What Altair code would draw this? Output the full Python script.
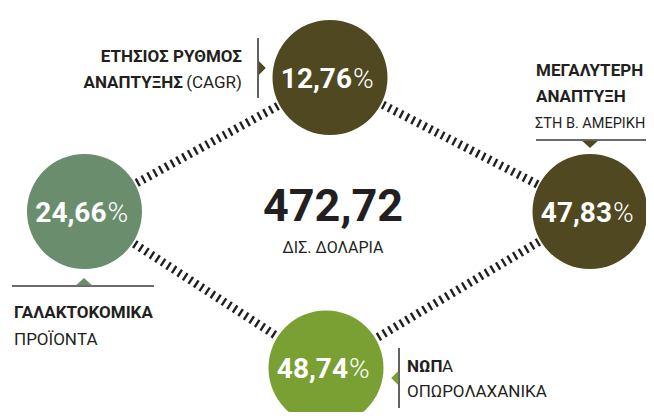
import altair as alt
import pandas as pd

# ---------------- data ----------------
pct_numbers = ["12,76", "24,66", "47,83", "48,74"]
pct_unit = "%"
circle_colors = ["#4f4820", "#6a8e6d", "#4f4820", "#7aa033"]
total_value = "472,72"
total_unit = "ΔΙΣ. ΔΟΛΑΡΙΑ"

bold_labels = ["ΕΤΗΣΙΟΣ ΡΥΘΜΟΣ", "ΑΝΑΠΤΥΞΗΣ", "ΜΕΓΑΛΥΤΕΡΗ", "ΑΝΑΠΤΥΞΗ", "ΓΑΛΑΚΤΟΚΟΜΙΚΑ", "ΝΩΠ"]
regular_labels = ["(CAGR)", "ΣΤΗ Β. ΑΜΕΡΙΚΗ", "ΠΡΟΪΟΝΤΑ", "Α", "ΟΠΩΡΟΛΑΧΑΝΙΚΑ"]

# ---------------- layout (reference pixel frame) ----------------
cx = [330, 84.5, 590, 326]
cy = [77.5, 211.5, 211.5, 368]
radius = 57.5
links = [(0, 1), (0, 2), (1, 3), (2, 3)]

bold_x = [242, 183, 536, 536, 14, 407]
bold_y = [62, 88, 76, 102, 318, 372]
bold_align = ["right", "right", "left", "left", "left", "left"]
bold_size = [17, 17, 17, 17, 17, 17]
reg_x = [242, 535, 14, 442, 407]
reg_y = [88, 128, 345, 372, 397]
reg_align = ["right", "left", "left", "left", "left"]
reg_size = [17, 14.5, 17, 17, 17]

FONT = "Roboto"
INK = "#231f20"
LINE = "#3a3a3a"

XS = alt.Scale(domain=[8, 646], nice=False, zero=False)
YS = alt.Scale(domain=[8, 412], nice=False, zero=False, reverse=True)


def X(f="x"):
    return alt.X(f"{f}:Q", scale=XS, axis=None)


def Y(f="y"):
    return alt.Y(f"{f}:Q", scale=YS, axis=None)


# hatched connectors
link_df = pd.DataFrame({
    "x": [cx[a] for a, b in links], "y": [cy[a] for a, b in links],
    "x2": [cx[b] for a, b in links], "y2": [cy[b] for a, b in links],
})
hatches = alt.Chart(link_df).mark_rule(
    color=INK, strokeWidth=8.5, strokeDash=[2.4, 4.2]
).encode(x=X(), y=Y(), x2="x2:Q", y2="y2:Q")

# circles
circ_df = pd.DataFrame({"x": cx, "y": cy, "c": circle_colors, "num": pct_numbers,
                        "unit": [pct_unit] * 4})
circles = alt.Chart(circ_df).mark_circle(
    size=4 * radius ** 2, opacity=1
).encode(x=X(), y=Y(), color=alt.Color("c:N", scale=None))

num_text = alt.Chart(circ_df).mark_text(
    font=FONT, fontWeight="bold", fontSize=28, color="white", align="right",
    baseline="alphabetic", dx=22, dy=10
).encode(x=X(), y=Y(), text="num:N")
unit_text = alt.Chart(circ_df).mark_text(
    font=FONT, fontWeight=300, fontSize=28, color="white", align="left",
    baseline="alphabetic", dx=23, dy=10
).encode(x=X(), y=Y(), text="unit:N")

# central total
tot_df = pd.DataFrame({"x": [333, 333], "y": [221, 253], "t": [total_value, total_unit]})
total_big = alt.Chart(tot_df.iloc[[0]]).mark_text(
    font=FONT, fontWeight="bold", fontSize=45, color=INK, align="center", baseline="alphabetic"
).encode(x=X(), y=Y(), text="t:N")
total_small = alt.Chart(tot_df.iloc[[1]]).mark_text(
    font=FONT, fontSize=16, color=INK, align="center", baseline="alphabetic"
).encode(x=X(), y=Y(), text="t:N")

# labels
bold_df = pd.DataFrame({"x": bold_x, "y": bold_y, "t": bold_labels, "a": bold_align, "s": bold_size})
reg_df = pd.DataFrame({"x": reg_x, "y": reg_y, "t": regular_labels, "a": reg_align, "s": reg_size})


def label_layer(df, weight):
    layers = []
    for al in ["left", "right"]:
        sub = df[df["a"] == al]
        if len(sub):
            layers.append(alt.Chart(sub).mark_text(
                font=FONT, fontWeight=weight, color=INK, align=al,
                baseline="alphabetic"
            ).encode(x=X(), y=Y(), text="t:N", size=alt.Size("s:Q", scale=None)))
    return layers


# label guide lines
guide_df = pd.DataFrame({
    "x": [258, 536, 12, 399], "y": [38, 140, 286, 348],
    "x2": [258, 660, 154, 399], "y2": [98, 140, 286, 408],
})
guides = alt.Chart(guide_df).mark_rule(color=LINE, strokeWidth=1.6).encode(
    x=X(), y=Y(), x2="x2:Q", y2="y2:Q")

# pointer triangles
tri_df = pd.DataFrame({
    "x": [258.8, 590, 84, 398.2], "y": [68, 140.8, 285.2, 378],
    "c": [circle_colors[0], circle_colors[2], circle_colors[1], circle_colors[3]],
})
tri_shapes = ["M0,-1L1,0L0,1Z", "M-1,0L1,0L0,0.9Z", "M-1,0L1,0L0,-0.9Z", "M0,-1L-1,0L0,1Z"]
tri_sizes = [196, 256, 256, 196]
tris = []
for i in range(4):
    tris.append(alt.Chart(tri_df.iloc[[i]]).mark_point(
        shape=tri_shapes[i], filled=True, size=tri_sizes[i], opacity=1,
        color=tri_df["c"][i], strokeWidth=0
    ).encode(x=X(), y=Y()))

chart = alt.layer(
    hatches, circles, num_text, unit_text, total_big, total_small,
    guides, *tris, *label_layer(bold_df, "bold"), *label_layer(reg_df, "normal")
).properties(
    width=638, height=404, padding=0, autosize="none", background="white"
).configure_view(stroke=None)

chart.save("out.html", embed_options={"renderer": "svg", "actions": False})
